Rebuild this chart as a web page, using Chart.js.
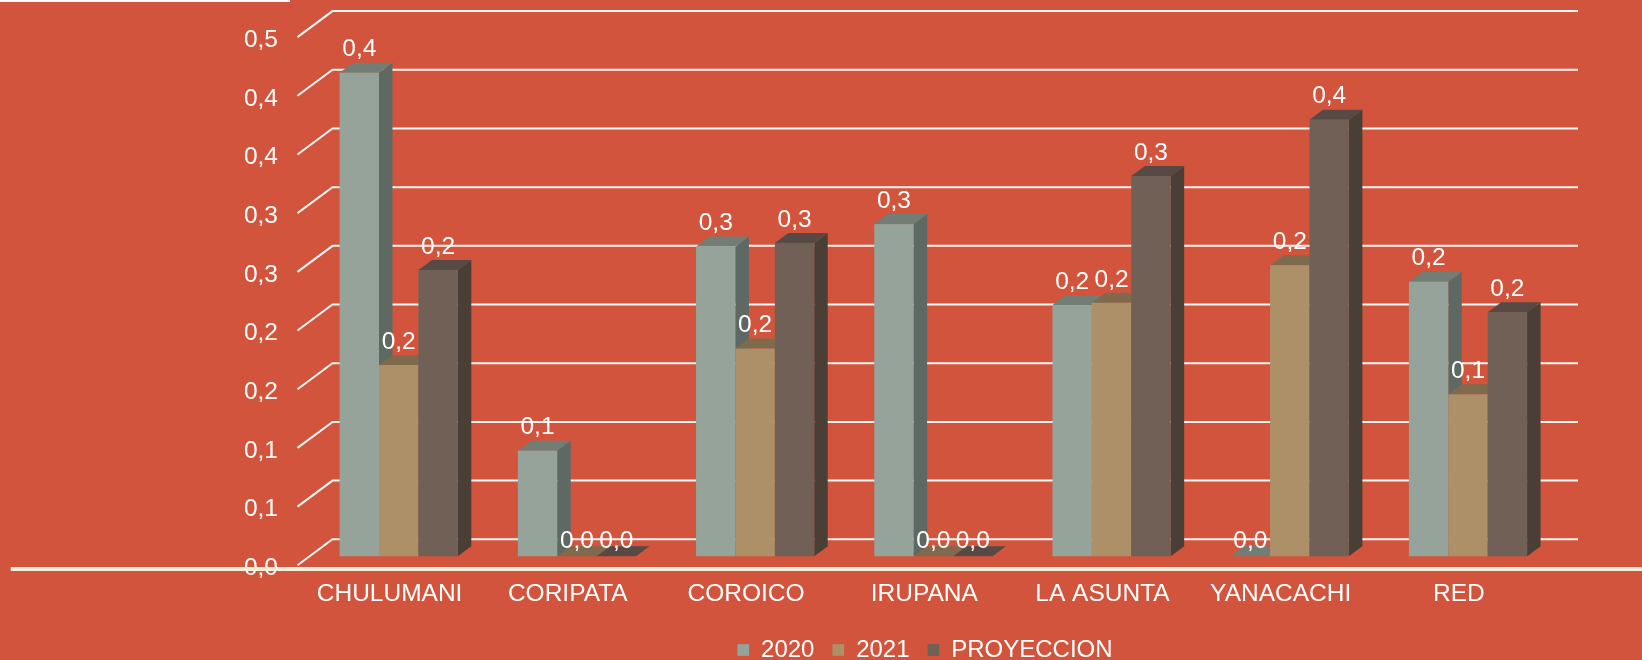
<!DOCTYPE html>
<html>
<head>
<meta charset="utf-8">
<script src="https://cdn.jsdelivr.net/npm/chart.js@4.4.0/dist/chart.umd.min.js"></script>
<style>
  html, body { margin: 0; padding: 0; background: #D2543C; }
  canvas { display: block; }
</style>
</head>
<body>
<canvas id="chart" width="1642" height="660"></canvas>
<script>
// datos
const categories = ["CHULUMANI", "CORIPATA", "COROICO", "IRUPANA", "LA ASUNTA", "YANACACHI", "RED"];
const seriesNames = ["2020", "2021", "PROYECCION"];
const values2020 = [0.412, 0.090, 0.264, 0.283, 0.214, 0, 0.234];
const values2021 = [0.163, 0, 0.177, 0, 0.216, 0.248, 0.138];
const valuesProy = [0.244, 0, 0.267, 0, 0.324, 0.372, 0.208];
const yTickValues = [0, 0.05, 0.1, 0.15, 0.2, 0.25, 0.3, 0.35, 0.4, 0.45];
const yTickLabels = ["0,0", "0,1", "0,1", "0,2", "0,2", "0,3", "0,3", "0,4", "0,4", "0,5"];

const frontColors = ["#95A39A", "#AD8F68", "#716056"];
const sideColors = ["#5E6963", "#7A6549", "#4A3F37"];
const topColors = ["#717D75", "#806A4D", "#574A44"];
const BG = "#D2543C";
const FONT = "'Liberation Sans', Arial, sans-serif";

// desplazamientos de la perspectiva 3D
const WALL_DX = 35, WALL_DY = -26;   // plano frontal -> pared del fondo
const BAR_DX = 12.1, BAR_DY = -9;    // plano frontal -> cara frontal de la barra
const DEPTH_DX = 13.5, DEPTH_DY = -10; // profundidad de la barra

function fmt(v) {
  return (Math.round(v * 10 + 1e-9) / 10).toFixed(1).replace(".", ",");
}

const backgroundPlugin = {
  id: "fondo",
  beforeDraw(chart) {
    const ctx = chart.ctx;
    ctx.save();
    ctx.fillStyle = BG;
    ctx.fillRect(0, 0, chart.width, chart.height);
    ctx.restore();
  }
};

const wallPlugin = {
  id: "pared",
  beforeDatasetsDraw(chart) {
    const ctx = chart.ctx;
    const y = chart.scales.y;
    const area = chart.chartArea;
    ctx.save();
    ctx.strokeStyle = "rgba(255,255,255,0.95)";
    ctx.lineWidth = 2;
    for (const v of yTickValues) {
      const py = y.getPixelForValue(v);
      ctx.beginPath();
      ctx.moveTo(area.left, py);
      ctx.lineTo(area.left + WALL_DX, py + WALL_DY);
      ctx.lineTo(area.right + WALL_DX - 2, py + WALL_DY);
      ctx.stroke();
    }
    ctx.restore();
  }
};

const barsPlugin = {
  id: "barras3d",
  afterDatasetsDraw(chart) {
    const ctx = chart.ctx;
    const n = chart.data.datasets.length;
    ctx.save();
    const labels = [];
    for (let j = 0; j < categories.length; j++) {
      for (let i = 0; i < n; i++) {
        const el = chart.getDatasetMeta(i).data[j];
        const v = chart.data.datasets[i].data[j];
        const left = el.x - el.width / 2 + BAR_DX;
        const right = el.x + el.width / 2 + BAR_DX;
        const top = el.y + BAR_DY;
        const bottom = el.base + BAR_DY;
        // cara lateral
        ctx.fillStyle = sideColors[i];
        ctx.beginPath();
        ctx.moveTo(right, bottom);
        ctx.lineTo(right + DEPTH_DX, bottom + DEPTH_DY);
        ctx.lineTo(right + DEPTH_DX, top + DEPTH_DY);
        ctx.lineTo(right, top);
        ctx.closePath();
        ctx.fill();
        // cara superior
        ctx.fillStyle = topColors[i];
        ctx.beginPath();
        ctx.moveTo(left, top);
        ctx.lineTo(left + DEPTH_DX, top + DEPTH_DY);
        ctx.lineTo(right + DEPTH_DX, top + DEPTH_DY);
        ctx.lineTo(right, top);
        ctx.closePath();
        ctx.fill();
        // cara frontal
        ctx.fillStyle = frontColors[i];
        ctx.fillRect(left, top, right - left, bottom - top);
        labels.push({ x: (left + right) / 2, y: top - (v === 0 ? 15 : 23), text: fmt(v) });
      }
    }
    ctx.fillStyle = "#FFFFFF";
    ctx.font = "24.5px " + FONT;
    ctx.textAlign = "center";
    ctx.textBaseline = "middle";
    for (const l of labels) ctx.fillText(l.text, l.x, l.y);
    ctx.restore();
  }
};

const linesPlugin = {
  id: "lineas",
  afterLayout(chart) {
    const lg = chart.legend;
    const h = lg.bottom - lg.top;
    lg.top = 650 - 18 - 12;
    lg.bottom = lg.top + h;
    lg.left = 208;
    lg.right = 1642;
  },
  afterDraw(chart) {
    const ctx = chart.ctx;
    ctx.save();
    ctx.fillStyle = "#F3EFD8";
    ctx.fillRect(10.7, 567, chart.width - 10.7, 4);
    ctx.fillStyle = "#FFFFFF";
    ctx.fillRect(0, 0, 290, 2);
    ctx.restore();
  }
};

Chart.defaults.font.family = FONT;
Chart.defaults.font.size = 24.5;
Chart.defaults.color = "#FFFFFF";

new Chart(document.getElementById("chart"), {
  type: "bar",
  data: {
    labels: categories,
    datasets: [
      { label: seriesNames[0], data: values2020 },
      { label: seriesNames[1], data: values2021 },
      { label: seriesNames[2], data: valuesProy },
    ].map(ds => Object.assign(ds, {
      backgroundColor: "rgba(0,0,0,0)",
      borderWidth: 0,
      barPercentage: 1,
      categoryPercentage: 0.6633,
    })),
  },
  options: {
    responsive: false,
    animation: false,
    layout: { padding: { left: 0, right: 97, top: 37.1, bottom: 0 } },
    plugins: {
      tooltip: { enabled: false },
      legend: {
        position: "bottom",
        fullSize: false,
        labels: {
          color: "#FFFFFF",
          font: { size: 24, family: FONT },
          boxWidth: 11.7,
          boxHeight: 11.7,
          padding: 18,
          generateLabels: (chart) => chart.data.datasets.map((ds, i) => ({
            text: ds.label,
            fillStyle: frontColors[i],
            strokeStyle: frontColors[i],
            lineWidth: 0,
            fontColor: "#FFFFFF",
            hidden: false,
            datasetIndex: i,
          })),
        },
      },
    },
    scales: {
      x: {
        grid: { display: false, drawTicks: false },
        border: { display: false },
        ticks: { padding: 14, labelOffset: 3, autoSkip: false, maxRotation: 0, color: "#FFFFFF" },
        afterFit: (scale) => { scale.height = 42.7; },
      },
      y: {
        min: 0,
        max: 0.45,
        grid: { display: false, drawTicks: false },
        border: { display: false },
        afterBuildTicks: (scale) => { scale.ticks = yTickValues.map(v => ({ value: v })); },
        ticks: {
          padding: 19.5,
          labelOffset: 3,
          color: "#FFFFFF",
          callback: (v, i) => yTickLabels[i],
        },
        afterFit: (scale) => { scale.width = 297.5; },
      },
    },
  },
  plugins: [backgroundPlugin, wallPlugin, barsPlugin, linesPlugin],
});
</script>
</body>
</html>
